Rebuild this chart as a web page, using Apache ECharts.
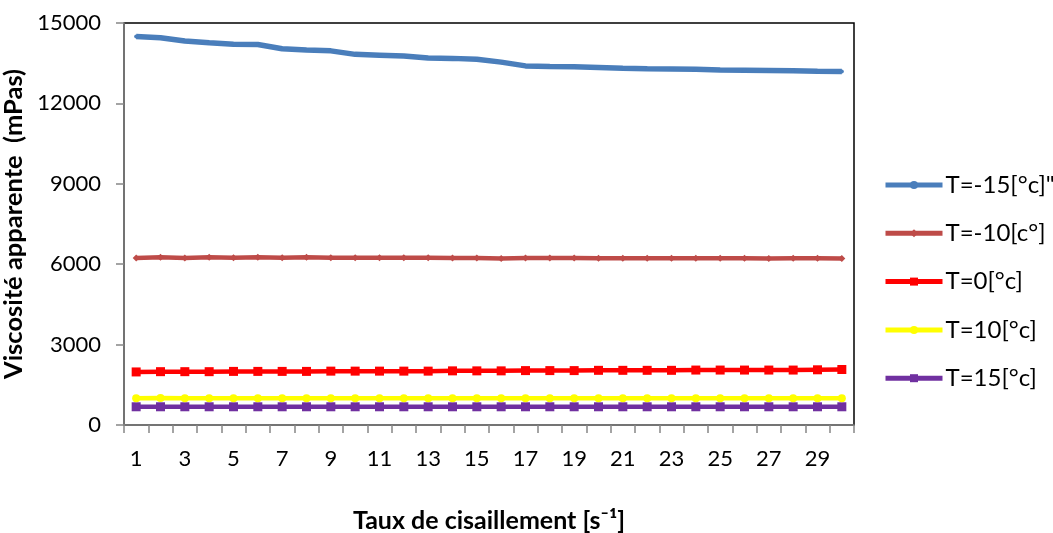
<!DOCTYPE html>
<html><head><meta charset="utf-8">
<script src="https://cdn.jsdelivr.net/npm/echarts@6/dist/echarts.min.js"></script>
<style>html,body{margin:0;padding:0;background:#fff}#c{width:1053px;height:533px}</style>
</head><body><div id="c"></div>
<script>
const categories = Array.from({length:30},(_,i)=>String(i+1));
const seriesNames = ['T=-15[°c]"','T=-10[c°]','T=0[°c]','T=10[°c]','T=15[°c]'];
const tm15 = [14500,14450,14330,14260,14210,14200,14040,13990,13960,13830,13800,13770,13690,13680,13650,13540,13400,13380,13370,13340,13310,13290,13280,13270,13250,13240,13230,13220,13200,13190];
const tm10 = [6230,6260,6230,6260,6240,6260,6240,6260,6240,6240,6240,6240,6240,6230,6230,6210,6230,6230,6230,6220,6220,6220,6220,6220,6220,6220,6210,6220,6220,6210];
const t0 = [1980,1990,1990,1990,2000,2000,2000,2000,2010,2010,2010,2010,2010,2020,2020,2020,2030,2030,2030,2040,2040,2040,2040,2050,2050,2050,2050,2050,2060,2070];
const t10 = [1000,1010,1000,1000,1000,1000,1000,1000,1000,1000,1000,1000,1000,1000,1000,1000,1000,1000,1000,1000,1000,1000,1000,1000,1000,1000,1000,1000,1000,1000];
const t15 = [680,680,680,680,680,680,680,680,680,680,680,680,680,680,680,680,680,680,680,680,680,680,680,680,680,680,680,680,680,680];
const yTicks = {min:0, max:15000, interval:3000};

const colors = ['#4a7ebb','#be4b48','#ff0000','#ffff00','#7030a0'];
const symbols = ['circle','diamond','rect','circle','rect'];
const sizes = [4,7,9,8,9];
const widths = [5.5,4.5,4.5,4.5,4.5];
const datas = [tm15,tm10,t0,t10,t15];
const font = 'Lato, "Open Sans", sans-serif';

const chart = echarts.init(document.getElementById('c'));
chart.setOption({
  animation:false,
  backgroundColor:'#fff',
  grid:{left:124,right:199,top:23,bottom:108,containLabel:false,outerBoundsMode:'none',show:true,borderColor:'#000',borderWidth:1.5,backgroundColor:'transparent'},
  legend:{
    orient:'vertical', left:883, top:173, padding:0, itemGap:24.3, itemWidth:57, itemHeight:10,
    lineStyle:{width:5},
    textStyle:{fontSize:24,fontFamily:font,color:'#000',padding:[0,0,0,-2]},
    data:seriesNames
  },
  xAxis:{
    type:'category', data:categories, boundaryGap:true,
    name:'Taux de cisaillement [s⁻¹]', nameLocation:'middle', nameGap:83,
    nameTextStyle:{fontSize:25,fontWeight:'bold',fontFamily:font,color:'#000'},
    axisLine:{lineStyle:{color:'#868686',width:1.5}},
    axisTick:{show:true,interval:0,length:8,lineStyle:{color:'#868686',width:1.5}},
    axisLabel:{interval:1,fontSize:22,fontFamily:font,color:'#000',margin:23},
    splitLine:{show:false}
  },
  yAxis:{
    type:'value', min:yTicks.min, max:yTicks.max, interval:yTicks.interval,
    name:'Viscosité apparente  (mPas)', nameLocation:'middle', nameGap:80,
    nameTextStyle:{fontSize:25.5,fontWeight:'bold',fontFamily:font,color:'#000'},
    axisLine:{show:true,lineStyle:{color:'#868686',width:1.5}},
    axisTick:{show:true,length:8,lineStyle:{color:'#868686',width:1.5}},
    axisLabel:{fontSize:22,fontFamily:font,color:'#000',margin:23,formatter:v=>String(v)},
    splitLine:{show:false}
  },
  series: datas.map((d,i)=>({
    name:seriesNames[i], type:'line', data:d,
    symbol:symbols[i], symbolSize:sizes[i], showSymbol:true,
    lineStyle:{color:colors[i],width:widths[i]},
    itemStyle:{color:colors[i]},
    z: 10-i
  }))
});
</script></body></html>
